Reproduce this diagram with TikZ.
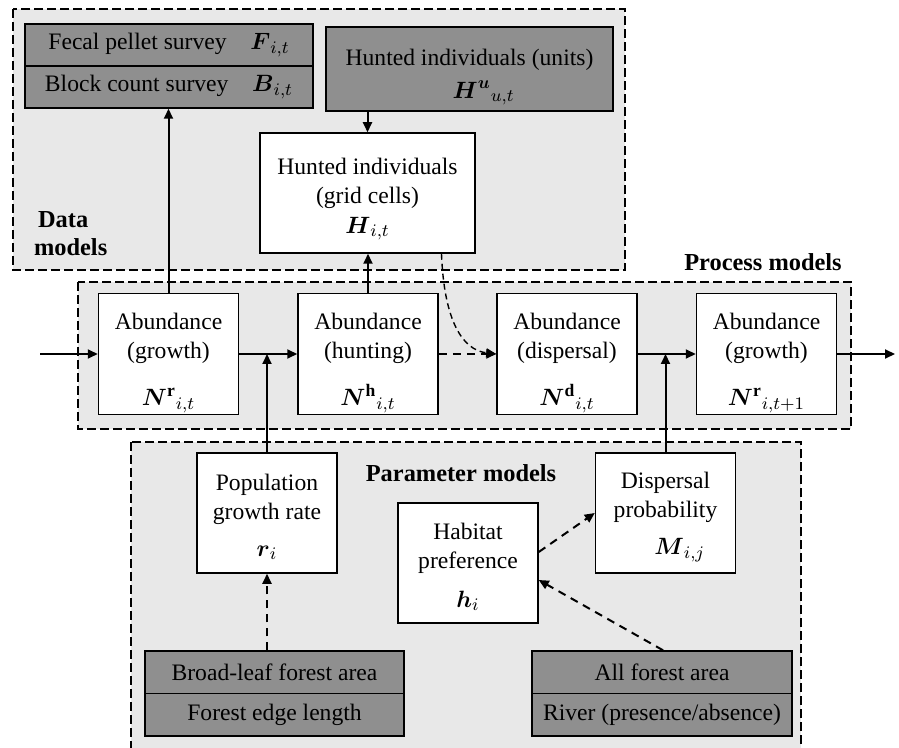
\RequirePackage{fix-cm}
\documentclass[tikz,border=0pt]{standalone}
\usepackage{amsmath}
\usepackage{fontspec}
\setmainfont{Liberation Serif}
\DeclareMathSizes{11.8}{11.8}{8.8}{7}
\usetikzlibrary{arrows.meta}
\definecolor{bgc}{RGB}{232,232,232}
\definecolor{dgc}{RGB}{143,143,143}
\newcommand{\topstrut}[1]{\rule{0pt}{#1}}
\begin{document}
\begin{tikzpicture}[x=0.5pt,y=-0.5pt,
 every node/.style={font=\fontsize{11.8}{14.5}\selectfont},
 wbox/.style={draw, line width=0.75pt, fill=white, align=center, minimum width=70pt, minimum height=60pt, inner sep=1pt},
 gbox/.style={draw, line width=0.75pt, fill=dgc, align=center, inner sep=1pt},
 region/.style={draw, fill=bgc, line width=1.2pt, dash pattern=on 4.5pt off 2pt},
 tip/.style={-{Triangle[length=5pt,width=4.5pt]}},
 arr/.style={line width=1pt, tip},
 darr/.style={line width=1pt, dash pattern=on 4pt off 3pt, tip},
 lab/.style={font=\fontsize{12.2}{14}\selectfont\bfseries}]
\useasboundingbox (0,0) rectangle (899,748);
\clip (0,0) rectangle (899,748);
% regions
\draw[region] (13,9) rectangle (625,270);
\draw[region] (78,282) rectangle (851,429);
\draw[region] (131,442) rectangle (801,765);
% labels
\node[lab, align=left, anchor=west] (ldata) at (27,234) {\hspace{2pt}Data\\models};
\node[lab] (lproc) at (763,262) {Process models};
\node[lab] (lpar) at (461,473) {Parameter models};
% data models
\node[gbox, minimum width=144pt, minimum height=21pt] (fp) at (169,45) {Fecal pellet survey\quad$\boldsymbol{F}_{i,t}$};
\node[gbox, minimum width=144pt, minimum height=21pt] (bc) at (169,87) {Block count survey\quad$\boldsymbol{B}_{i,t}$};
\node[gbox, minimum width=143.5pt, minimum height=42pt] (hu) at (469.5,69) {\topstrut{16pt}Hunted individuals (units)\\[2pt]\hspace{1.2em}$\boldsymbol{H}^{\boldsymbol{u}}{}_{u,t}$};
\node[wbox, minimum width=107.5pt] (hg) at (367.5,193) {\topstrut{14pt}Hunted individuals\\(grid cells)\\[0.5pt]$\boldsymbol{H}_{i,t}$};
% process models
\node[wbox] (a1) at (168.5,354) {\topstrut{17pt}Abundance\\(growth)\\[9pt]$\boldsymbol{N}^{\mathbf{r}}{}_{i,t}$};
\node[wbox] (a2) at (368,354) {\topstrut{17pt}Abundance\\(hunting)\\[9pt]$\boldsymbol{N}^{\mathbf{h}}{}_{i,t}$};
\node[wbox] (a3) at (567,354) {\topstrut{17pt}Abundance\\(dispersal)\\[9pt]$\boldsymbol{N}^{\mathbf{d}}{}_{i,t}$};
\node[wbox] (a4) at (766.5,354) {\topstrut{17pt}Abundance\\(growth)\\[9pt]$\boldsymbol{N}^{\mathbf{r}}{}_{i,t+1}$};
% parameter models
\node[wbox] (pg) at (267,513) {\topstrut{12pt}Population\\growth rate\\[4pt]$\boldsymbol{r}_i$};
\node[wbox] (hb) at (468,563) {\topstrut{12pt}Habitat\\preference\\[5pt]$\boldsymbol{h}_i$};
\node[wbox] (dp) at (665.5,513) {\topstrut{12pt}Dispersal\\probability\\[4pt]\hspace{1.2em}$\boldsymbol{M}_{i,j}$};
\node[gbox, minimum width=129.5pt, minimum height=21.25pt] (bl) at (274.5,672.25) {Broad-leaf forest area};
\node[gbox, minimum width=129.5pt, minimum height=21.25pt] (fe) at (274.5,714.75) {Forest edge length};
\node[gbox, minimum width=130pt, minimum height=21.25pt] (af) at (662,672.25) {All forest area};
\node[gbox, minimum width=130pt, minimum height=21.25pt] (rv) at (662,714.75) {River (presence/absence)};
% connectors
\coordinate (in) at (40,354);
\coordinate (out) at (895,354);
\draw[arr] (in) -- (a1);
\draw[arr] (a1) -- (a2);
\draw[darr] (a2) -- (a3);
\draw[arr] (a3) -- (a4);
\draw[arr] (a4) -- (out);
\draw[arr] (pg.north) -- (pg.north |- a1.east);
\draw[arr] (dp.north) -- (dp.north |- a3.east);
\draw[arr] (a1.north) -- (a1.north |- bc.south);
\draw[arr] (a2.north) -- (a2.north |- hg.south);
\draw[arr] (hg.north |- hu.south) -- (hg.north);
\draw[darr] (pg.south |- bl.north) -- (pg.south);
\draw[darr] ([yshift=5.5pt]hb.east) -- (dp.west);
\draw[darr] ([xshift=0.5pt]af.north) -- ([yshift=-8.5pt]hb.east);
\draw[line width=0.7pt, dash pattern=on 3pt off 2pt, tip] ([xshift=37pt]hg.south) .. controls (444,320) and (462,350) .. (a3.west);
\end{tikzpicture}
\end{document}
